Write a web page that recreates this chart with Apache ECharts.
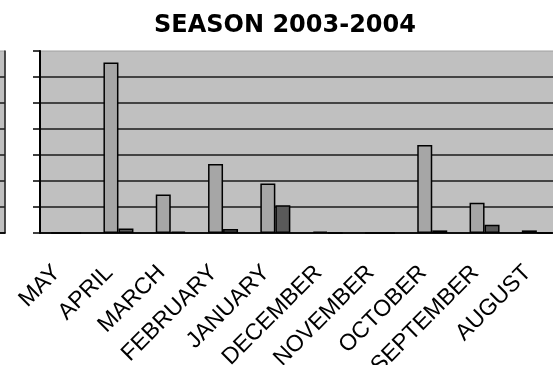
<!DOCTYPE html>
<html>
<head>
<meta charset="utf-8">
<script src="https://cdn.jsdelivr.net/npm/echarts@6/dist/echarts.min.js"></script>
<style>
  html,body{margin:0;padding:0;background:#fff;}
  #chart{width:553px;height:365px;}
</style>
</head>
<body>
<div id="chart"></div>
<script>
/* season chart - months listed backwards from May */

const months = ["MAY","APRIL","MARCH","FEBRUARY","JANUARY","DECEMBER","NOVEMBER","OCTOBER","SEPTEMBER","AUGUST"];

const lightValues = [0, 65.6, 14.8, 26.5, 19.0, 0.5, 0, 33.8, 11.6, 1.0];
const darkValues  = [0, 1.7, 0.5, 1.5, 10.7, 0, 0, 1.0, 3.2, 0];

const yMin = 0;
const yMax = 70;
const yStep = 10;

const chart = echarts.init(document.getElementById("chart"));

const option = {

    animation:false,

    title:{
        text:"SEASON 2003-2004",
        left:149,
        top:9,
        textStyle:{
            fontFamily:"DejaVu Sans",
            fontWeight:"bold",
            fontSize:24,
            color:"#000"
        }
    },

    grid:[
        {
            left:40,
            right:-10,
            top:51,
            bottom:132,
            outerBoundsMode:"none",
            show:true,
            backgroundColor:"#c0c0c0",
            borderWidth:1,
            borderColor:"#a0a0a0"
        },
        {
            // edge of the neighbouring chart, cut off at the left
            left:-60,
            right:548,
            top:51,
            bottom:132,
            outerBoundsMode:"none",
            show:true,
            backgroundColor:"#c0c0c0",
            borderWidth:1,
            borderColor:"#a0a0a0"
        }
    ],

    xAxis:[
        {
            type:"category",
            gridIndex:0,
            data:months,
            axisLine:{lineStyle:{color:"#000",width:1.5}},
            axisTick:{length:7,lineStyle:{color:"#000",width:1.5}},
            axisLabel:{
                rotate:45,
                margin:27,
                interval:0,
                padding:[0,13,0,0],
                fontFamily:"Liberation Sans",
                fontSize:23,
                color:"#000"
            }
        },
        {
            type:"category",
            gridIndex:1,
            data:[""],
            axisLine:{lineStyle:{color:"#000",width:1.5}},
            axisTick:{length:7,lineStyle:{color:"#000",width:1.5}},
            axisLabel:{show:false}
        }
    ],

    yAxis:[
        {
            type:"value",
            gridIndex:0,
            min:yMin,
            max:yMax,
            interval:yStep,
            axisLine:{show:true,lineStyle:{color:"#000",width:2}},
            axisTick:{show:true,length:7,lineStyle:{color:"#000",width:1.5}},
            axisLabel:{show:false},
            splitLine:{showMaxLine:false,lineStyle:{color:"#1a1a1a",width:1.5}}
        },
        {
            type:"value",
            gridIndex:1,
            position:"right",
            min:yMin,
            max:yMax,
            interval:yStep,
            axisLine:{show:true,lineStyle:{color:"#222",width:1.5}},
            axisTick:{show:false},
            axisLabel:{show:false},
            splitLine:{showMaxLine:false,lineStyle:{color:"#1a1a1a",width:1.5}}
        }
    ],

    series:[
        {
            type:"bar",
            xAxisIndex:0,
            yAxisIndex:0,
            data:lightValues,
            barWidth:15,
            barGap:"0%",
            itemStyle:{
                color:"#a6a6a6",
                borderColor:"#000",
                borderWidth:1.5
            }
        },
        {
            type:"bar",
            xAxisIndex:0,
            yAxisIndex:0,
            data:darkValues,
            barWidth:15,
            barGap:"0%",
            itemStyle:{
                color:"#5a5a5a",
                borderColor:"#000",
                borderWidth:1.5
            }
        }
    ]

};

chart.setOption(option);
</script>
</body>
</html>
